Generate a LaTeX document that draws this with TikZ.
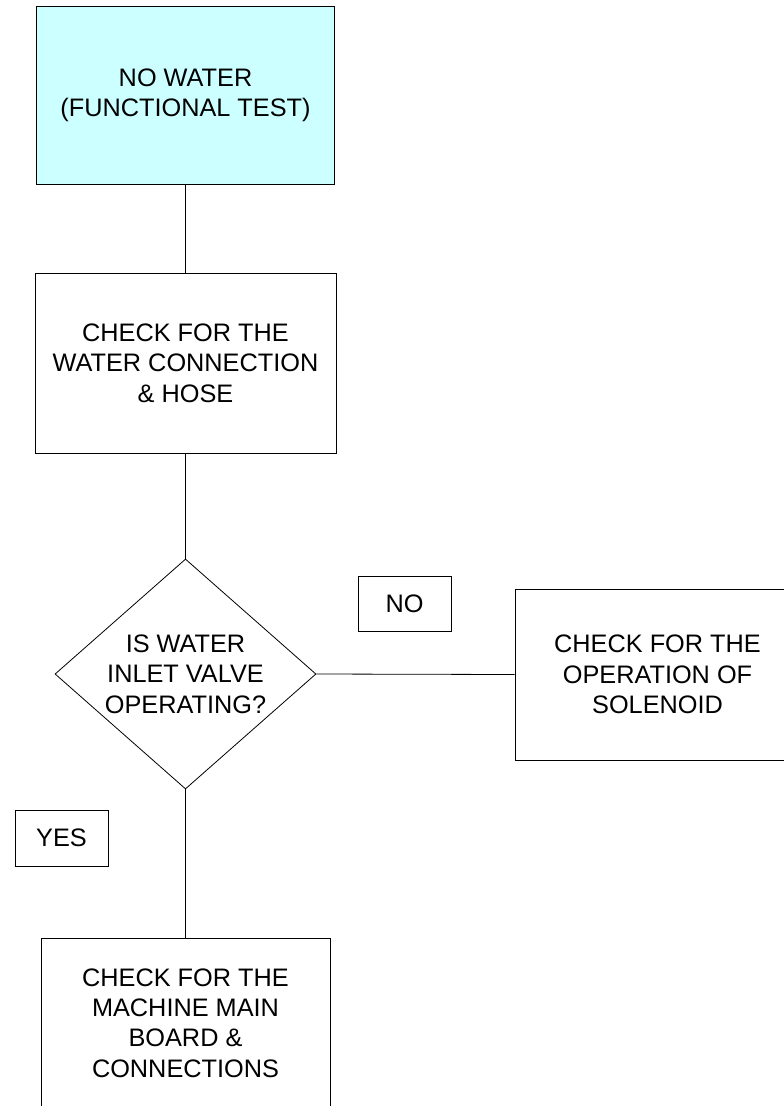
\documentclass[tikz,border=0pt]{standalone}
\usepackage{fontspec}
\setmainfont{Liberation Sans}
\usetikzlibrary{shapes.geometric}
\definecolor{startfill}{HTML}{CCFFFF}
\tikzset{
  box/.style={draw=black, line width=0.8pt, rectangle, inner sep=0pt, align=center,
    font=\fontsize{25.3}{30.3}\selectfont},
  tag/.style={box},
  dec/.style={draw=black, line width=0.8pt, diamond, inner sep=0pt},
  txt/.style={inner sep=0pt, align=center, font=\fontsize{25.3}{30.3}\selectfont},
  link/.style={draw=black, line width=0.8pt}
}
\begin{document}
\begin{tikzpicture}[x=1pt, y=-1pt]
\useasboundingbox (0,0) rectangle (784,1106);
\clip (0,0) rectangle (784,1106);
\fill[white] (0,0) rectangle (784,1106);
\node[box, fill=startfill, minimum width=297.6pt, minimum height=178.3pt] (start) at (185.5,95.3) {NO WATER\\(FUNCTIONAL TEST)};
\node[box, minimum width=301pt, minimum height=180pt] (hose) at (185.5,363) {CHECK FOR THE\\WATER CONNECTION\\\& HOSE};
\node[dec, minimum width=261pt, minimum height=230pt] (valve) at (185.5,674) {};
\node[txt] (valvetext) at (valve.center) {IS WATER\\INLET VALVE\\OPERATING?};
\node[box, minimum width=285pt, minimum height=171pt] (solenoid) at (657.5,674.5) {CHECK FOR THE\\OPERATION OF\\SOLENOID};
\node[box, minimum width=289pt, minimum height=170pt] (board) at (185.5,1023) {CHECK FOR THE\\MACHINE MAIN\\BOARD \&\\CONNECTIONS};
\node[tag, minimum width=93pt, minimum height=55pt] (no) at (404.5,603.5) {NO};
\node[tag, minimum width=93pt, minimum height=56pt] (yes) at (61.5,838) {YES};
\draw[link] (start.south) -- (hose.north);
\draw[link] (hose.south) -- (valve.north);
\draw[link] (valve.east) -- (solenoid.west);
\draw[link] (valve.south) -- (board.north);
\end{tikzpicture}
\end{document}
